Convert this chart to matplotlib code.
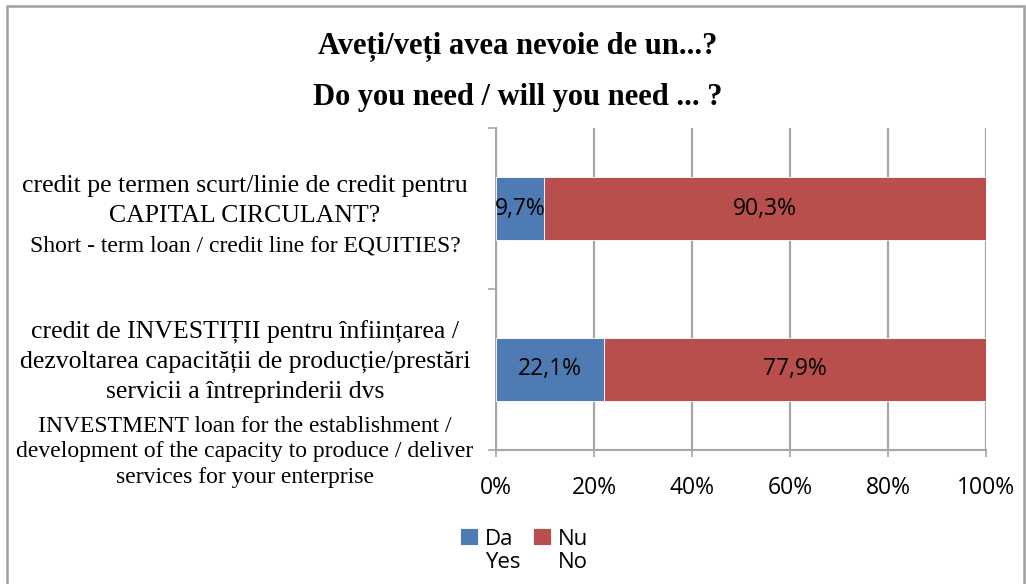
import matplotlib.pyplot as plt
from matplotlib.patches import Rectangle

# data (bottom category first, as barh draws it)
categories_ro = [
    ["credit de INVESTIȚII pentru înființarea /",
     "dezvoltarea capacității de producție/prestări",
     "servicii a întreprinderii dvs"],
    ["credit pe termen scurt/linie de credit pentru",
     "CAPITAL CIRCULANT?"],
]
categories_en = [
    ["INVESTMENT loan for the establishment /",
     "development of the capacity to produce / deliver",
     "services for your enterprise"],
    ["Short - term loan / credit line for EQUITIES?"],
]
da_yes = [22.1, 9.7]
nu_no = [77.9, 90.3]
x_ticks = [0, 20, 40, 60, 80, 100]
x_tick_labels = ["0%", "20%", "40%", "60%", "80%", "100%"]
legend_top = ["Da", "Nu"]
legend_bottom = ["Yes", "No"]

blue = "#4F7BB5"
red = "#B84F4C"
grid_gray = "#A6A6A6"
serif = "Liberation Serif"
sans = "Open Sans"

W, H = 1026, 584
fig = plt.figure(figsize=(W / 100, H / 100), dpi=100)

# chart border
fig.patches.append(Rectangle((7 / W, -0.01), 1017 / W, 1 - 6 / H + 0.01,
                             transform=fig.transFigure, fill=False,
                             edgecolor="#A0A0A0", linewidth=1.8))

ax = fig.add_axes([496 / W, 1 - 450 / H, 490 / W, 322 / H])
y = [0, 1]
ax.barh(y, da_yes, height=0.39, color=blue, edgecolor="white", linewidth=0.6,
        label=legend_top[0], zorder=3)
ax.barh(y, nu_no, left=da_yes, height=0.39, color=red, edgecolor="white",
        linewidth=0.6, label=legend_top[1], zorder=3)

for i in range(len(y)):
    ax.text(da_yes[i] / 2, y[i], f"{da_yes[i]:.1f}%".replace(".", ","),
            ha="center", va="center", fontsize=16.5, family=sans, zorder=4)
    ax.text(da_yes[i] + nu_no[i] / 2, y[i], f"{nu_no[i]:.1f}%".replace(".", ","),
            ha="center", va="center", fontsize=16.5, family=sans, zorder=4)

ax.set_xlim(0, 100)
ax.set_ylim(-0.5, 1.5)
ax.set_xticks(x_ticks)
ax.set_xticklabels(x_tick_labels, fontsize=16.5, family=sans)
ax.tick_params(axis="x", length=5, width=1.2, color=grid_gray, pad=14)
ax.set_yticks([-0.5, 0.5, 1.5])
ax.set_yticklabels([])
ax.tick_params(axis="y", length=6, width=1.2, color=grid_gray, direction="out")
ax.grid(True, axis="x", color=grid_gray, linewidth=1.6, zorder=0)
for s in ["top", "right"]:
    ax.spines[s].set_visible(False)
for s in ["left", "bottom"]:
    ax.spines[s].set_color(grid_gray)
    ax.spines[s].set_linewidth(1.5)


# category labels, one text per line (pixel rows measured from the top)
def put_lines(lines, y0, step, size):
    for k, line in enumerate(lines):
        fig.text(245 / W, 1 - (y0 + k * step) / H, line, ha="center",
                 va="center", fontsize=size, family=serif)


put_lines(categories_ro[1], 186, 30, 18.5)
put_lines(categories_en[1], 246, 25, 17)
put_lines(categories_ro[0], 332, 30, 18.5)
put_lines(categories_en[0], 427, 25, 17)

fig.text(518 / W, 1 - 47 / H, "Aveți/veți avea nevoie de un...?", ha="center",
         va="center", fontsize=22, fontweight="bold", family=serif)
fig.text(518 / W, 1 - 98 / H, "Do you need / will you need ... ?", ha="center",
         va="center", fontsize=22, fontweight="bold", family=serif)

leg = fig.legend(loc="center", bbox_to_anchor=(524 / W, 1 - 539 / H), ncol=2,
                 frameon=False, prop={"family": sans, "size": 16},
                 handlelength=0.8, handleheight=0.8, handletextpad=0.3,
                 columnspacing=0.9, borderpad=0)

# second legend row under each label, left aligned with it
fig.canvas.draw()
for t, txt in zip(leg.get_texts(), legend_bottom):
    bb = t.get_window_extent()
    fig.text(bb.x0 / W, 1 - 563 / H, txt, ha="left", va="center",
             fontsize=16, family=sans)

fig.savefig("out.png", dpi=100)
